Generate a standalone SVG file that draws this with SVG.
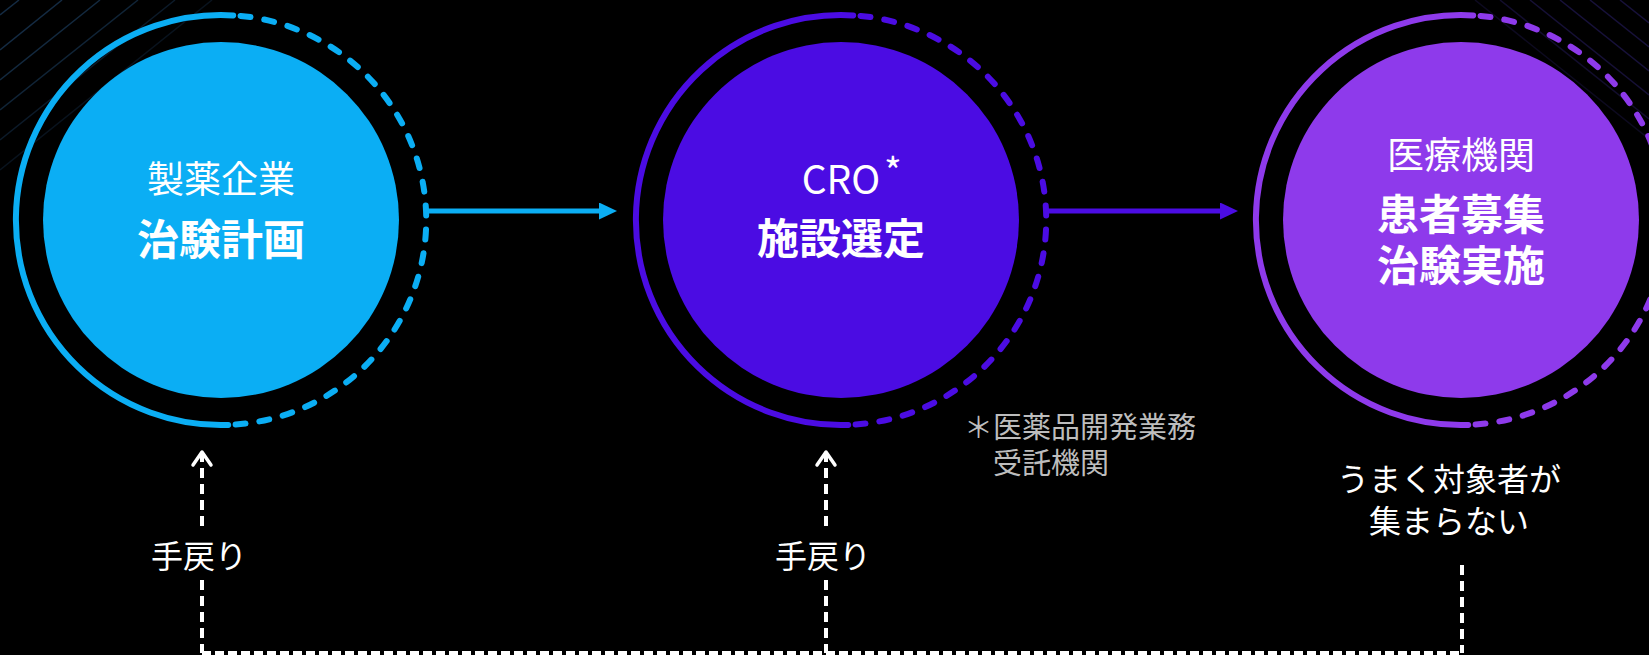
<svg xmlns="http://www.w3.org/2000/svg" width="1649" height="655" viewBox="0 0 1649 655">
<style>
text { font-family: "Noto Sans CJK JP", "Noto Sans", sans-serif; fill: #ffffff; }
.sub { font-size: 37px; text-anchor: middle; }
.main { font-size: 42px; font-weight: 700; text-anchor: middle; }
.ring { fill: none; stroke-width: 6; stroke-linecap: round; }
.dash { stroke-dasharray: 10 14; }
.lbl { font-size: 32px; text-anchor: middle; }
.note { font-size: 29px; fill: #bdbdbd; }
.fb { fill: none; stroke: #ffffff; stroke-width: 4; }
.vd { stroke-dasharray: 10 6; }
.hd { stroke-dasharray: 9 4; }
.bgl { stroke-width: 1.5; fill: none; }
</style>
<defs>
<marker id="tri-blue" markerUnits="userSpaceOnUse" markerWidth="19" markerHeight="18" refX="1" refY="8.5" orient="auto">
<path d="M0,0 L18,8.5 L0,17 z" fill="#0BAEF4"/>
</marker>
<marker id="tri-indigo" markerUnits="userSpaceOnUse" markerWidth="19" markerHeight="18" refX="1" refY="8.5" orient="auto">
<path d="M0,0 L18,8.5 L0,17 z" fill="#4B0CE3"/>
</marker>
<marker id="chev" markerUnits="userSpaceOnUse" markerWidth="20" markerHeight="22" refX="15" refY="10" orient="auto-start-reverse" overflow="visible">
<path d="M2,1 L15,10 L2,19" fill="none" stroke="#ffffff" stroke-width="3.5" stroke-linecap="round" stroke-linejoin="round"/>
</marker>
</defs>
<rect width="1649" height="655" fill="#000000"/>
<g id="bg-lines-left" stroke="#16304a" class="bgl">
<line x1="0" y1="15" x2="19" y2="0" opacity="0.9"/>
<line x1="0" y1="50" x2="62" y2="0" opacity="0.9"/>
<line x1="0" y1="80" x2="100" y2="0" opacity="0.85"/>
<line x1="0" y1="110" x2="138" y2="0" opacity="0.75"/>
<line x1="0" y1="140" x2="175" y2="0" opacity="0.55"/>
<line x1="0" y1="170" x2="212" y2="0" opacity="0.4"/>
</g>
<g id="bg-lines-right" stroke="#1a1340" class="bgl">
<line x1="1475" y1="0" x2="1649" y2="139" opacity="0.5"/>
<line x1="1500" y1="0" x2="1649" y2="119" opacity="0.7"/>
<line x1="1530" y1="0" x2="1649" y2="95" opacity="0.85"/>
<line x1="1560" y1="0" x2="1649" y2="71" opacity="0.9"/>
<line x1="1590" y1="0" x2="1649" y2="47" opacity="0.9"/>
<line x1="1620" y1="0" x2="1649" y2="23" opacity="0.9"/>
</g>
<g id="connectors">
<line x1="426" y1="211" x2="600" y2="211" stroke="#0BAEF4" stroke-width="5" marker-end="url(#tri-blue)"/>
<line x1="1045" y1="211" x2="1221" y2="211" stroke="#4B0CE3" stroke-width="5" marker-end="url(#tri-indigo)"/>
<path class="fb vd" d="M202 452 V527" marker-start="url(#chev)"/>
<path class="fb vd" d="M202 580 V653"/>
<path class="fb vd" d="M826 452 V527" marker-start="url(#chev)"/>
<path class="fb vd" d="M826 580 V653"/>
<path class="fb vd" d="M1462 565 V653"/>
<path class="fb hd" d="M202 653 H1462"/>
<text class="lbl" x="199" y="568">手戻り</text>
<text class="lbl" x="823" y="568">手戻り</text>
</g>
<g id="node-pharma" transform="translate(221,220)">
<circle r="178" fill="#0BAEF4"/>
<path class="ring" stroke="#0BAEF4" d="M12.2 -204.6 A205 205 0 1 0 7.2 204.9"/>
<path class="ring dash" stroke="#0BAEF4" d="M19.6 -204.1 A205 205 0 0 1 14.3 204.5"/>
<text text-anchor="middle"><tspan class="sub" x="0" y="-27.5">製薬企業</tspan><tspan class="main" x="0" y="35">治験計画</tspan></text>
</g>
<g id="node-cro" transform="translate(841,220)">
<circle r="178" fill="#4B0CE3"/>
<path class="ring" stroke="#4B0CE3" d="M12.2 -204.6 A205 205 0 1 0 7.2 204.9"/>
<path class="ring dash" stroke="#4B0CE3" d="M19.6 -204.1 A205 205 0 0 1 14.3 204.5"/>
<text><tspan class="sub" x="0" y="-26" style="font-size:39px">CRO</tspan><tspan x="43" y="-34" style="font-size:38px">*</tspan><tspan class="main" x="0" y="34">施設選定</tspan></text>
</g>
<g id="node-hospital" transform="translate(1461,220)">
<circle r="178" fill="#8E3AEB"/>
<path class="ring" stroke="#8E3AEB" d="M12.2 -204.6 A205 205 0 1 0 7.2 204.9"/>
<path class="ring dash" stroke="#8E3AEB" d="M19.6 -204.1 A205 205 0 0 1 14.3 204.5"/>
<text text-anchor="middle"><tspan class="sub" x="0" y="-51.5">医療機関</tspan><tspan class="main" x="0" y="10">患者募集</tspan><tspan class="main" x="0" y="61">治験実施</tspan></text>
</g>
<g id="note-cro">
<text class="note"><tspan x="964" y="438">＊医薬品開発業務</tspan><tspan x="993" y="474">受託機関</tspan></text>
</g>
<g id="label-shortage">
<text class="lbl"><tspan x="1449" y="491">うまく対象者が</tspan><tspan x="1449" y="533">集まらない</tspan></text>
</g>
</svg>
